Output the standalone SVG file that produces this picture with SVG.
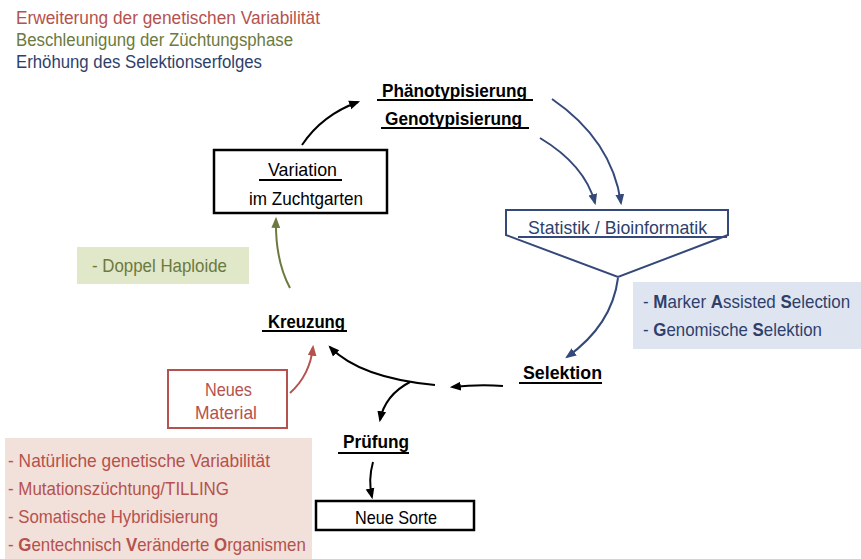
<svg xmlns="http://www.w3.org/2000/svg" width="861" height="559" viewBox="0 0 861 559">
<defs>
<style>
text{font-family:"Liberation Sans",Arial,sans-serif;}
.t{font-size:18.5px;fill:#000;}
.b{font-weight:bold;}
.red{fill:#b5524d;}
.ol{fill:#6b7a3e;}
.nv{fill:#2f3f6c;}
.ul{stroke:#000;stroke-width:2;}
.c{fill:none;stroke-width:2;}
</style>
<marker id="ak" viewBox="0 0 10 10" refX="8" refY="5" markerWidth="5.5" markerHeight="5.5" orient="auto"><path d="M0,1 L10,5 L0,9 Z" fill="#000"/></marker>
<marker id="an" viewBox="0 0 10 10" refX="8" refY="5" markerWidth="5.5" markerHeight="5.5" orient="auto"><path d="M0,1 L10,5 L0,9 Z" fill="#34497a"/></marker>
<marker id="ao" viewBox="0 0 10 10" refX="8" refY="5" markerWidth="5.5" markerHeight="5.5" orient="auto"><path d="M0,1 L10,5 L0,9 Z" fill="#6b7a3e"/></marker>
<marker id="ar" viewBox="0 0 10 10" refX="8" refY="5" markerWidth="5.5" markerHeight="5.5" orient="auto"><path d="M0,1 L10,5 L0,9 Z" fill="#b5524d"/></marker>
</defs>
<rect width="861" height="559" fill="#fff"/>

<g id="legend">
<text x="16" y="24" font-size="17.5" class="red" textLength="304" lengthAdjust="spacingAndGlyphs">Erweiterung der genetischen Variabilität</text>
<text x="16" y="46" font-size="17.5" class="ol" textLength="277" lengthAdjust="spacingAndGlyphs">Beschleunigung der Züchtungsphase</text>
<text x="16" y="68" font-size="17.5" class="nv" textLength="246" lengthAdjust="spacingAndGlyphs">Erhöhung des Selektionserfolges</text>
</g>

<g id="connectors">
<path class="c" stroke="#000" d="M302,145 Q322,115 358,102" marker-end="url(#ak)"/>
<path class="c" stroke="#34497a" d="M552,99 Q612,140 621,203" marker-end="url(#an)"/>
<path class="c" stroke="#34497a" d="M540,138 Q585,165 595,203" marker-end="url(#an)"/>
<path class="c" stroke="#34497a" d="M618,278 Q612,325 567,357" marker-end="url(#an)"/>
<path class="c" stroke="#000" d="M503,386 Q480,384 452,387" marker-end="url(#ak)"/>
<path class="c" stroke="#000" d="M435,385 Q360,378 330,347" marker-end="url(#ak)"/>
<path class="c" stroke="#000" d="M410,382 Q385,395 380,420" marker-end="url(#ak)"/>
<path class="c" stroke="#b5524d" d="M290,393 Q310,375 313,347" marker-end="url(#ar)"/>
<path class="c" stroke="#6b7a3e" d="M290,288 Q275,260 276,219" marker-end="url(#ao)"/>
<path class="c" stroke="#000" d="M373,462 Q368,480 372,497" marker-end="url(#ak)"/>
</g>

<g id="phaeno">
<text x="382" y="97" class="t b" textLength="145" lengthAdjust="spacingAndGlyphs">Phänotypisierung</text>
<line class="ul" x1="377" y1="100" x2="533" y2="100"/>
<text x="385" y="125" class="t b" textLength="137" lengthAdjust="spacingAndGlyphs">Genotypisierung</text>
<line class="ul" x1="381" y1="128" x2="529" y2="128"/>
</g>

<g id="variation">
<rect x="214" y="150" width="173" height="63" fill="#fff" stroke="#000" stroke-width="2.5"/>
<text x="268" y="176" class="t" textLength="69" lengthAdjust="spacingAndGlyphs">Variation</text>
<line class="ul" x1="259" y1="180" x2="342" y2="180"/>
<text x="249" y="205" class="t" textLength="114" lengthAdjust="spacingAndGlyphs">im Zuchtgarten</text>
</g>

<g id="statistik">
<path d="M506,210 L728,210 L728,235 L618,277 L506,235 Z" fill="#fff" stroke="#34497a" stroke-width="2"/>
<text x="528" y="234" class="t nv" textLength="179" lengthAdjust="spacingAndGlyphs">Statistik / Bioinformatik</text>
<line x1="518" y1="237" x2="727" y2="237" stroke="#34497a" stroke-width="2"/>
</g>

<g id="mas">
<rect x="633" y="282" width="228" height="67" fill="#dfe5f0"/>
<text transform="translate(643,308) scale(0.916,1)" class="t nv">- <tspan class="b">M</tspan>arker <tspan class="b">A</tspan>ssisted <tspan class="b">S</tspan>election</text>
<text transform="translate(643,336) scale(0.911,1)" class="t nv">- <tspan class="b">G</tspan>enomische <tspan class="b">S</tspan>elektion</text>
</g>

<g id="doppel">
<rect x="77" y="247" width="172" height="37" fill="#e1e7c9"/>
<text x="92" y="272" class="t ol" textLength="135" lengthAdjust="spacingAndGlyphs">- Doppel Haploide</text>
</g>

<g id="kreuzung">
<text x="268" y="328" class="t b" textLength="77" lengthAdjust="spacingAndGlyphs">Kreuzung</text>
<line class="ul" x1="262" y1="331" x2="347" y2="331"/>
</g>

<g id="selektion">
<text x="523" y="379" class="t b" textLength="79" lengthAdjust="spacingAndGlyphs">Selektion</text>
<line class="ul" x1="519" y1="383" x2="602" y2="383"/>
</g>

<g id="neuesmaterial">
<rect x="168" y="370" width="119" height="58" fill="#fff" stroke="#b5524d" stroke-width="2"/>
<text x="205" y="396" class="t red" textLength="47" lengthAdjust="spacingAndGlyphs">Neues</text>
<text x="195" y="419" class="t red" textLength="62" lengthAdjust="spacingAndGlyphs">Material</text>
</g>

<g id="quellen">
<rect x="5" y="438" width="307" height="121" fill="#f2e0da"/>
<text x="8" y="467" class="t red" textLength="262" lengthAdjust="spacingAndGlyphs">- Natürliche genetische Variabilität</text>
<text x="8" y="495" class="t red" textLength="221" lengthAdjust="spacingAndGlyphs">- Mutationszüchtung/TILLING</text>
<text x="8" y="523" class="t red" textLength="210" lengthAdjust="spacingAndGlyphs">- Somatische Hybridisierung</text>
<text transform="translate(8,551) scale(0.911,1)" class="t red">- <tspan class="b">G</tspan>entechnisch <tspan class="b">V</tspan>eränderte <tspan class="b">O</tspan>rganismen</text>
</g>

<g id="pruefung">
<text x="343" y="448" class="t b" textLength="66" lengthAdjust="spacingAndGlyphs">Prüfung</text>
<line class="ul" x1="338" y1="453" x2="409" y2="453"/>
</g>

<g id="neuesorte">
<rect x="316" y="501" width="158" height="29" fill="#fff" stroke="#000" stroke-width="2.5"/>
<text x="355" y="524" class="t" textLength="82" lengthAdjust="spacingAndGlyphs">Neue Sorte</text>
</g>
</svg>
